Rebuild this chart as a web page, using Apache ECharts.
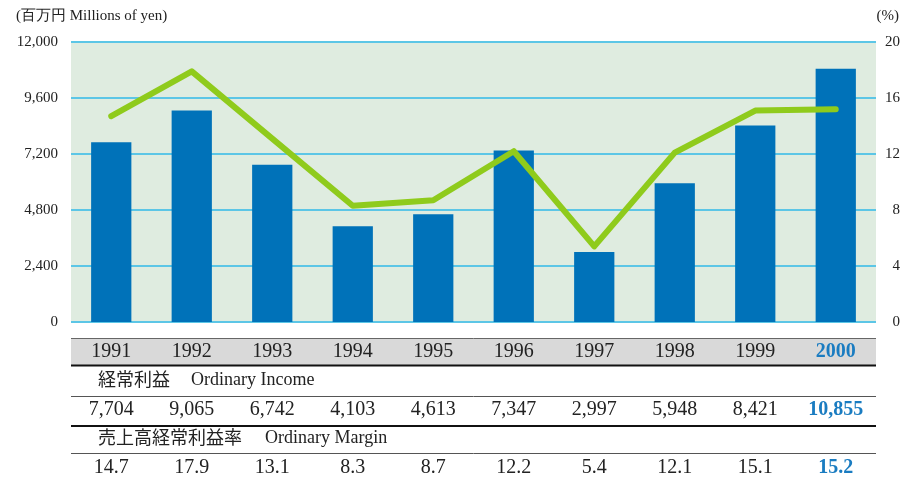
<!DOCTYPE html>
<html>
<head>
<meta charset="utf-8">
<script src="https://cdn.jsdelivr.net/npm/echarts@6/dist/echarts.min.js"></script>
<style>
  html, body { margin: 0; padding: 0; background: #fff; }
</style>
</head>
<body>
<div id="chart" style="width: 903px; height: 479px"></div>
<script>
const years = ["1991", "1992", "1993", "1994", "1995", "1996", "1997", "1998", "1999", "2000"];
const ordinaryIncome = [7704, 9065, 6742, 4103, 4613, 7347, 2997, 5948, 8421, 10855];
const ordinaryMargin = [14.7, 17.9, 13.1, 8.3, 8.7, 12.2, 5.4, 12.1, 15.1, 15.2];
const incomeTicks = [0, 2400, 4800, 7200, 9600, 12000];
const marginTicks = [0, 4, 8, 12, 16, 20];

const serif = "Liberation Serif";
const jp = "Noto Sans CJK JP";
const last = years.length - 1;

// 最後の年は青の太字
function tableLabel(value, index) {
  return index === last ? "{hl|" + value + "}" : value;
}
const hlRich = {
  hl: { color: "#1a7cc1", fontWeight: "bold", fontSize: 20, fontFamily: serif }
};

const myChart = echarts.init(document.getElementById("chart"));
const option = {
  animation: false,
  grid: {
    left: 71, right: 27, top: 42, bottom: 157,
    show: true, backgroundColor: "#dfece0", borderWidth: 0,
    outerBoundsMode: "none"
  },
  graphic: [
    { type: "text", left: 16, top: 9, z: 5,
      style: { text: "(百万円 Millions of yen)", fontFamily: serif, fontSize: 15, fill: "#222" } },
    { type: "text", right: 4, top: 9, z: 5,
      style: { text: "(%)", fontFamily: serif, fontSize: 15, fill: "#222" } },
    // 年の帯
    { type: "rect", shape: { x: 71, y: 338, width: 805, height: 28 }, z: -5,
      style: { fill: "#d9d9d9" } },
    { type: "line", shape: { x1: 71, y1: 338.5, x2: 876, y2: 338.5 }, z: 5,
      style: { stroke: "#666", lineWidth: 1 } },
    { type: "line", shape: { x1: 71, y1: 365.5, x2: 876, y2: 365.5 }, z: 5,
      style: { stroke: "#111", lineWidth: 2 } },
    { type: "text", left: 98, top: 370, z: 5,
      style: { text: "経常利益", fontFamily: jp, fontSize: 18, fill: "#222" } },
    { type: "text", left: 191, top: 371, z: 5,
      style: { text: "Ordinary Income", fontFamily: serif, fontSize: 18, fill: "#222" } },
    { type: "line", shape: { x1: 71, y1: 396.5, x2: 876, y2: 396.5 }, z: 5,
      style: { stroke: "#555", lineWidth: 1 } },
    { type: "line", shape: { x1: 71, y1: 426, x2: 876, y2: 426 }, z: 5,
      style: { stroke: "#111", lineWidth: 2 } },
    { type: "text", left: 98, top: 428, z: 5,
      style: { text: "売上高経常利益率", fontFamily: jp, fontSize: 18, fill: "#222" } },
    { type: "text", left: 265, top: 429, z: 5,
      style: { text: "Ordinary Margin", fontFamily: serif, fontSize: 18, fill: "#222" } },
    { type: "line", shape: { x1: 71, y1: 453.5, x2: 876, y2: 453.5 }, z: 5,
      style: { stroke: "#555", lineWidth: 1 } }
  ],
  xAxis: [
    {
      type: "category", data: years, position: "bottom", z: 10,
      axisLine: { show: false }, axisTick: { show: false },
      axisLabel: { interval: 0, margin: 20, fontFamily: serif, fontSize: 20, color: "#222",
        formatter: tableLabel, rich: hlRich }
    },
    {
      type: "category", data: ordinaryIncome.map(v => v.toLocaleString("en-US")),
      position: "bottom", z: 10,
      axisLine: { show: false }, axisTick: { show: false },
      axisLabel: { interval: 0, margin: 78, fontFamily: serif, fontSize: 20, color: "#222",
        formatter: tableLabel, rich: hlRich }
    },
    {
      type: "category", data: ordinaryMargin.map(v => v.toFixed(1)),
      position: "bottom", z: 10,
      axisLine: { show: false }, axisTick: { show: false },
      axisLabel: { interval: 0, margin: 136, fontFamily: serif, fontSize: 20, color: "#222",
        formatter: tableLabel, rich: hlRich }
    }
  ],
  yAxis: [
    {
      type: "value", min: incomeTicks[0], max: incomeTicks[incomeTicks.length - 1],
      interval: incomeTicks[1] - incomeTicks[0],
      axisLine: { show: false }, axisTick: { show: false },
      axisLabel: { margin: 13, fontFamily: serif, fontSize: 15, color: "#222",
        formatter: v => v.toLocaleString("en-US") },
      splitLine: { lineStyle: { color: "#5cc6e6", width: 2 } }
    },
    {
      type: "value", position: "right", min: marginTicks[0],
      max: marginTicks[marginTicks.length - 1], interval: marginTicks[1] - marginTicks[0],
      axisLine: { show: false }, axisTick: { show: false },
      axisLabel: { margin: 24, align: "right", fontFamily: serif, fontSize: 15, color: "#222" },
      splitLine: { show: false }
    }
  ],
  series: [
    {
      name: "経常利益",
      type: "bar",
      data: ordinaryIncome,
      barWidth: "50%",
      itemStyle: { color: "#0072b9" },
      silent: true
    },
    {
      name: "売上高経常利益率",
      type: "line",
      yAxisIndex: 1,
      data: ordinaryMargin,
      symbol: "none",
      lineStyle: { color: "#8fcb1c", width: 6, cap: "round", join: "round" },
      silent: true
    }
  ]
};
myChart.setOption(option);
</script>
</body>
</html>
